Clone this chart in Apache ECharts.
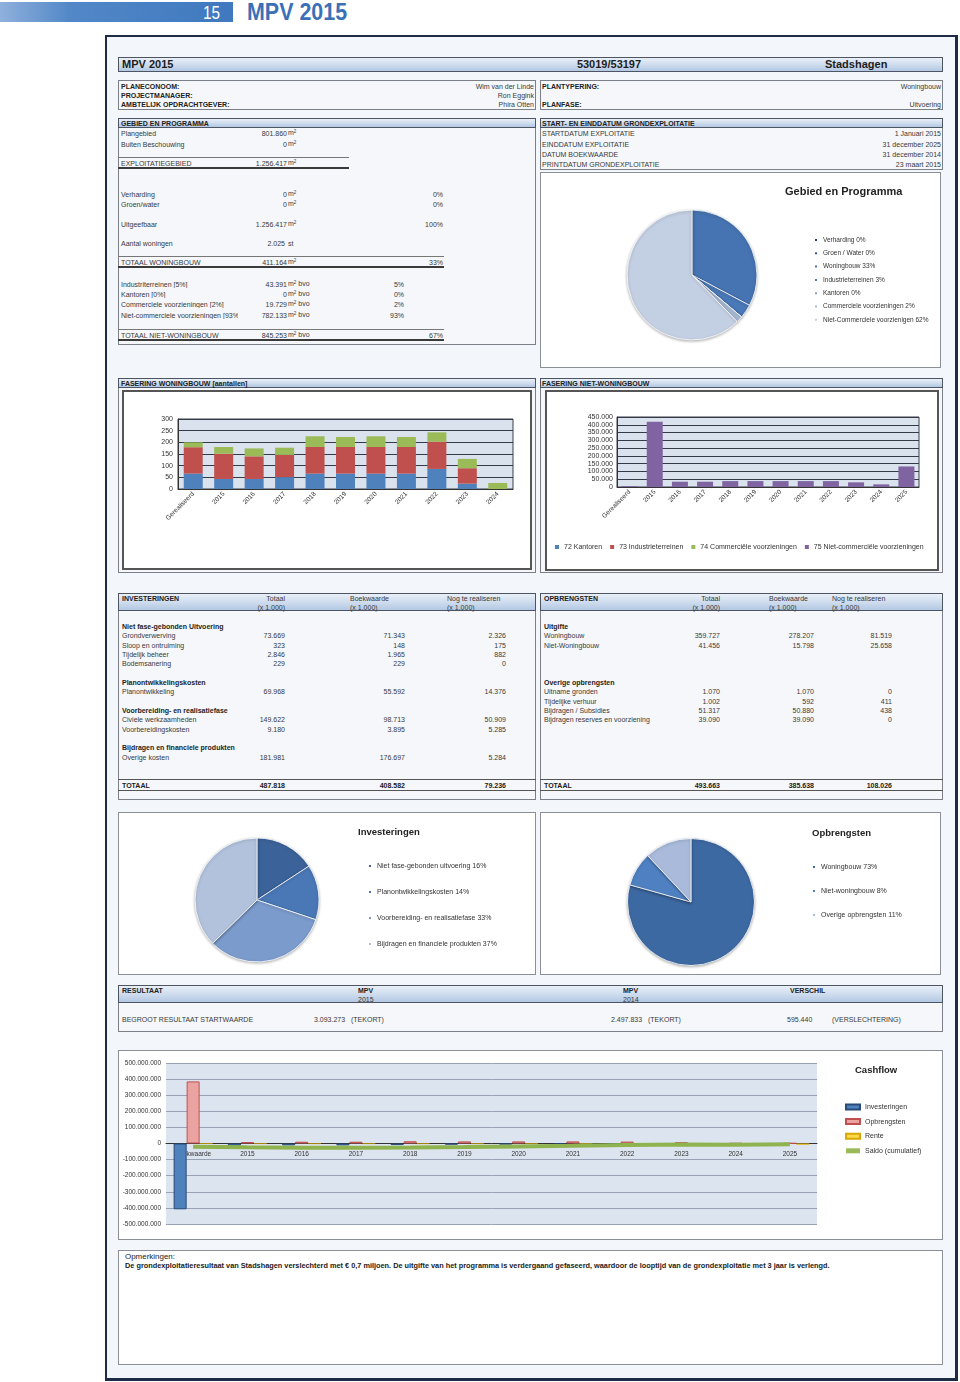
<!DOCTYPE html>
<html><head><meta charset="utf-8">
<script src="https://cdn.jsdelivr.net/npm/echarts@6/dist/echarts.min.js"></script>
<style>
html,body{margin:0;padding:0;background:#fff;}
#page{position:relative;width:960px;height:1382px;overflow:hidden;font-family:"Liberation Sans",Arial,sans-serif;color:#3a3a3a;}
.t{position:absolute;white-space:nowrap;}
.b{position:absolute;box-sizing:border-box;}
.sup{font-size:4.5px;position:relative;top:-2.5px;}
</style></head><body><div id="page"></div>
<script>
// ---------------- DATA ----------------
const infoLeft = [['PLANECONOOM:','Wim van der Linde'],['PROJECTMANAGER:','Ron Eggink'],['AMBTELIJK OPDRACHTGEVER:','Phira Otten']];
const infoRight = [['PLANTYPERING:','Woningbouw'],['',''],['PLANFASE:','Uitvoering']];
const datesRows = [['STARTDATUM EXPLOITATIE','1 Januari 2015'],['EINDDATUM EXPLOITATIE','31 december 2025'],['DATUM BOEKWAARDE','31 december 2014'],['PRINTDATUM GRONDEXPLOITATIE','23 maart 2015']];
const areaRows = [['Plangebied','801.860'],['Buiten Beschouwing','0']];
const areaTotal = ['EXPLOITATIEGEBIED','1.256.417'];
const useRows = [['Verharding','0','0%'],['Groen/water','0','0%'],['Uitgeefbaar','1.256.417','100%']];
const housingCount = ['Aantal woningen','2.025','st'];
const housingTotal = ['TOTAAL WONINGBOUW','411.164','33%'];
const nonHousingRows = [['Industriterreinen [5%]','43.391','5%'],['Kantoren [0%]','0','0%'],['Commerciele voorzieningen [2%]','19.729','2%'],['Niet-commerciele voorzieningen [93%]','782.133','93%']];
const nonHousingTotal = ['TOTAAL NIET-WONINGBOUW','845.253','67%'];

const gebiedNames = ['Verharding 0%','Groen / Water 0%','Woningbouw 33%','Industrieterreinen 3%','Kantoren 0%','Commerciele voorzieningen 2%','Niet-Commerciele voorzienigen 62%'];
const gebiedValues = [0,0,411164,43391,0,19729,782133];

const wbCategories = ['Gerealiseerd','2015','2016','2017','2018','2019','2020','2021','2022','2023','2024'];
const wbBlue  = [66,43,43,51,66,66,66,66,86,23,0];
const wbRed   = [113,108,97,95,114,114,114,114,117,66,0];
const wbGreen = [21,29,34,31,46,43,46,43,40,40,26];

const nwbCategories = ['Gerealiseerd','2015','2016','2017','2018','2019','2020','2021','2022','2023','2024','2025'];
const nwbKantoren = [0,0,0,0,0,0,0,0,0,0,0,0];
const nwbIndustrie = [0,0,0,0,0,0,0,0,0,0,0,0];
const nwbCommercieel = [0,0,0,0,0,0,0,0,0,0,0,0];
const nwbNietCommercieel = [5000,420000,34000,34000,38000,38000,38000,38000,38000,30000,17000,132000];
const nwbLegend = ['72 Kantoren','73 Industrieterreinen','74 Commerciële voorzieningen','75 Niet-commerciële voorzieningen'];

const invHeader = ['INVESTERINGEN','Totaal','Boekwaarde','Nog te realiseren','(x 1.000)'];
const invRows = [
  ['Niet fase-gebonden Uitvoering'],
  ['Grondverwerving','73.669','71.343','2.326'],
  ['Sloop en ontruiming','323','148','175'],
  ['Tijdelijk beheer','2.846','1.965','882'],
  ['Bodemsanering','229','229','0'],
  ['Planontwikkelingskosten'],
  ['Planontwikkeling','69.968','55.592','14.376'],
  ['Voorbereiding- en realisatiefase'],
  ['Civiele werkzaamheden','149.622','98.713','50.909'],
  ['Voorbereidingskosten','9.180','3.895','5.285'],
  ['Bijdragen en financiele produkten'],
  ['Overige kosten','181.981','176.697','5.284']];
const invTotal = ['TOTAAL','487.818','408.582','79.236'];

const opbHeader = ['OPBRENGSTEN','Totaal','Boekwaarde','Nog te realiseren','(x 1.000)'];
const opbRows = [
  ['Uitgifte'],
  ['Woningbouw','359.727','278.207','81.519'],
  ['Niet-Woningbouw','41.456','15.798','25.658'],
  ['Overige opbrengsten'],
  ['Uitname gronden','1.070','1.070','0'],
  ['Tijdelijke verhuur','1.002','592','411'],
  ['Bijdragen / Subsidies','51.317','50.880','438'],
  ['Bijdragen reserves en voorziening','39.090','39.090','0']];
const opbTotal = ['TOTAAL','493.663','385.638','108.026'];

const invPieNames = ['Niet fase-gebonden uitvoering 16%','Planontwikkelingskosten 14%','Voorbereiding- en realisatiefase 33%','Bijdragen en financiele produkten 37%'];
const invPieValues = [77067,69968,158802,181981];
const opbPieNames = ['Woningbouw 73%','Niet-woningbouw 8%','Overige opbrengsten 11%'];
const opbPieValues = [73,8,11];

const resHeader = ['RESULTAAT','MPV','2015','MPV','2014','VERSCHIL'];
const resRow = ['BEGROOT RESULTAAT STARTWAARDE','3.093.273','(TEKORT)','2.497.833','(TEKORT)','595.440','(VERSLECHTERING)'];

const cfCategories = ['Boekwaarde','2015','2016','2017','2018','2019','2020','2021','2022','2023','2024','2025'];
const cfInvesteringen = [-408582000,-14000000,-12000000,-12000000,-10000000,-7000000,-6000000,-5000000,-4000000,-3000000,-3000000,-3000000];
const cfOpbrengsten = [385638000,9000000,11000000,11000000,14000000,13000000,13000000,13000000,12000000,8000000,2000000,2000000];
const cfRente = [0,-1000000,-1500000,-1500000,-1500000,-1500000,-1500000,-1500000,-1500000,-1500000,-1500000,-8000000];
const cfSaldo = [-20000000,-24000000,-26000000,-27000000,-25000000,-22000000,-18000000,-14000000,-9000000,-6000000,-7000000,-4000000];
const cfLegend = ['Investeringen','Opbrengsten','Rente','Saldo (cumulatief)'];

const remarksTitle = 'Opmerkingen:';
const remarksText = 'De grondexploitatieresultaat van Stadshagen verslechterd met € 0,7 miljoen. De uitgifte van het programma is verdergaand gefaseerd, waardoor de looptijd van de grondexploitatie met 3 jaar is verlengd.';

// ---------------- LAYOUT HELPERS ----------------
const page = document.getElementById('page');
const HDR = 'background:linear-gradient(to bottom,#e9eff8 0%,#cddbed 55%,#b3c8e3 100%);';
function box(x,y,w,h,css){const d=document.createElement('div');d.className='b';d.style.cssText=`left:${x}px;top:${y}px;width:${w}px;height:${h}px;`+(css||'');page.appendChild(d);return d;}
function T(x,y,s,o){o=o||{};const d=document.createElement('div');d.className='t';const fs=o.size||7;
  d.style.fontSize=fs+'px';d.style.lineHeight=fs+'px';d.style.top=(y-fs/2)+'px';
  if(o.align==='right'){d.style.left=(x-500)+'px';d.style.width='500px';d.style.textAlign='right';}
  else if(o.align==='center'){d.style.left=(x-250)+'px';d.style.width='500px';d.style.textAlign='center';}
  else d.style.left=x+'px';
  if(o.bold)d.style.fontWeight='bold';
  if(o.color)d.style.color=o.color;
  if(o.clip){d.style.width=o.clip+'px';d.style.overflow='hidden';}
  d.innerHTML=s;page.appendChild(d);
  if(o.fit){const w=d.scrollWidth;d.style.transformOrigin='left center';d.style.transform=`scaleX(${o.fit/w})`;}
  return d;}
function line(x1,x2,y,w,c){box(x1,y,x2-x1,w,'background:'+c);}
const M2 = ' m<span class="sup">2</span>';
const nl = v => { const s=Math.abs(Math.round(v)).toString().replace(/\B(?=(\d{3})+(?!\d))/g,'.'); return (v<0?'-':'')+s; };

// ---------------- STATIC PAGE ----------------
box(0,2,233,20,'background:linear-gradient(to right,#8fb0dc 0%,#5288c8 30%,#3f78be 100%)');
T(203,12.5,'15',{size:18,color:'#fff',fit:17});
T(247,12,'MPV 2015',{size:24,bold:true,color:'#3b70b7',fit:100});

box(105,35,853,1346,'border:2px solid #1d2b47;border-right-width:3px;border-bottom-width:3px;background:#f3f6fa');

box(118,57,825,15,'border:1px solid #4d5564;'+HDR);
T(122,64.5,'MPV 2015',{size:11,bold:true,color:'#1d1d1d'});
T(609,64.5,'53019/53197',{size:11,bold:true,align:'center',color:'#1d1d1d'});
T(825,64.5,'Stadshagen',{size:11,bold:true,color:'#1d1d1d'});

const infoY=[86,95,104];
box(118,80,418,30,'border:1px solid #7a7f88;background:#f5f7fa');
box(540,80,403,30,'border:1px solid #7a7f88;background:#f5f7fa');
infoLeft.forEach((r,i)=>{T(121,infoY[i],r[0],{bold:true,color:'#222'});T(534,infoY[i],r[1],{align:'right'});});
infoRight.forEach((r,i)=>{if(!r[0])return;T(542,infoY[i],r[0],{bold:true,color:'#222'});T(941,infoY[i],r[1],{align:'right'});});

// Gebied en programma
box(118,118,418,227,'border:1px solid #7a7f88;background:#f5f7fa');
box(118,118,418,10,'border:1px solid #4d5564;'+HDR);
T(121,123,'GEBIED EN PROGRAMMA',{bold:true,color:'#222'});
const aY=[133,144];
areaRows.forEach((r,i)=>{T(287,aY[i],r[1],{align:'right'});T(121,aY[i],r[0]);T(288,aY[i]-0.5,M2);});
line(118,349,157,1,'#777');
T(121,163,areaTotal[0]);T(287,163,areaTotal[1],{align:'right'});T(288,162.5,M2);
line(118,349,167,2,'#3a3a3a');
const uY=[194,204,224];
useRows.forEach((r,i)=>{T(121,uY[i],r[0]);T(287,uY[i],r[1],{align:'right'});T(288,uY[i]-0.5,M2);T(443,uY[i],r[2],{align:'right'});});
T(121,243,housingCount[0]);T(285,243,housingCount[1],{align:'right'});T(288,243,housingCount[2]);
line(118,444,256,1,'#777');
T(121,262,housingTotal[0]);T(287,262,housingTotal[1],{align:'right'});T(288,261.5,M2);T(443,262,housingTotal[2],{align:'right'});
line(118,444,266,2,'#3a3a3a');
const nY=[284,294,304,315];
nonHousingRows.forEach((r,i)=>{T(121,nY[i],r[0],{clip:117});T(287,nY[i],r[1],{align:'right'});T(288,nY[i]-0.5,M2+' bvo');T(404,nY[i],r[2],{align:'right'});});
line(118,444,329,1,'#777');
T(121,335,nonHousingTotal[0]);T(287,335,nonHousingTotal[1],{align:'right'});T(288,334.5,M2+' bvo');T(443,335,nonHousingTotal[2],{align:'right'});
line(118,444,339,2,'#3a3a3a');

// dates
box(540,118,403,52,'border:1px solid #7a7f88;background:#f5f7fa');
box(540,118,403,10,'border:1px solid #4d5564;'+HDR);
T(542,123,'START- EN EINDDATUM GRONDEXPLOITATIE',{bold:true,color:'#222'});
const dY=[133,144,154,164];
datesRows.forEach((r,i)=>{T(542,dY[i],r[0]);T(941,dY[i],r[1],{align:'right'});});

// chart boxes
box(540,172,401,196,'border:1px solid #8a8f98;background:#fff');
box(118,378,418,195,'border:1px solid #7a7f88;background:#f5f7fa');
box(118,378,418,10,'border:1px solid #4d5564;'+HDR);
T(121,383,'FASERING WONINGBOUW [aantallen]',{bold:true,color:'#222'});
box(122,390,410,180,'border:2px solid #555;background:#fff');
box(540,378,403,195,'border:1px solid #7a7f88;background:#f5f7fa');
box(540,378,403,10,'border:1px solid #4d5564;'+HDR);
T(542,383,'FASERING NIET-WONINGBOUW',{bold:true,color:'#222'});
box(545,390,394,181,'border:2px solid #555;background:#fff');

// tables
function table(x,w,hdr,rows,rowY,tot,cols){
  box(x,593,w,207,'border:1px solid #7a7f88;background:#f5f7fa');
  box(x,593,w,18,'border:1px solid #4d5564;'+HDR);
  T(x+4,598,hdr[0],{bold:true,color:'#222'});
  T(cols[0],598,hdr[1],{align:'right'});T(cols[0],607,hdr[4],{align:'right'});
  T(cols[1],598,hdr[2]);T(cols[1],607,hdr[4]);
  T(cols[2],598,hdr[3]);T(cols[2],607,hdr[4]);
  rows.forEach((r,i)=>{const y=rowY[i];
    if(r.length===1){T(x+4,y,r[0],{bold:true,color:'#1e1e1e'});return;}
    T(x+4,y,r[0]);T(cols[0],y,r[1],{align:'right'});T(cols[3],y,r[2],{align:'right'});T(cols[4],y,r[3],{align:'right'});});
  line(x,x+w,779,1,'#555');
  T(x+4,785,tot[0],{bold:true,color:'#222'});
  T(cols[0],785,tot[1],{align:'right',bold:true,color:'#222'});T(cols[3],785,tot[2],{align:'right',bold:true,color:'#222'});T(cols[4],785,tot[3],{align:'right',bold:true,color:'#222'});
  line(x,x+w,790,1,'#555');
}
table(118,418,invHeader,invRows,[626,635,645,654,663,682,691,710,719,729,747,757],invTotal,[285,350,447,405,506]);
table(540,403,opbHeader,opbRows,[626,635,645,682,691,701,710,719],opbTotal,[720,769,832,814,892]);

box(118,812,418,163,'border:1px solid #8a8f98;background:#fff');
box(540,812,401,163,'border:1px solid #8a8f98;background:#fff');

// resultaat
box(118,985,825,47,'border:1px solid #7a7f88;background:#f5f7fa');
box(118,985,825,18,'border:1px solid #4d5564;'+HDR);
T(122,990,resHeader[0],{bold:true,color:'#222'});
T(358,990,resHeader[1],{bold:true,color:'#222'});T(358,999,resHeader[2]);
T(623,990,resHeader[3],{bold:true,color:'#222'});T(623,999,resHeader[4]);
T(790,990,resHeader[5],{bold:true,color:'#222'});
T(122,1019,resRow[0]);
T(314,1019,resRow[1]);T(351,1019,resRow[2]);
T(611,1019,resRow[3]);T(648,1019,resRow[4]);
T(787,1019,resRow[5]);T(832,1019,resRow[6]);

box(118,1050,825,190,'border:1px solid #8a8f98;background:#fff');
box(118,1250,825,115,'border:1px solid #8a8f98;background:#fff');
T(125,1256,remarksTitle,{color:'#222',fit:50});
T(125,1265,remarksText,{bold:true,color:'#222',fit:705});

// ---------------- CHARTS ----------------
function mk(x,y,w,h){const d=document.createElement('div');d.style.cssText=`position:absolute;left:${x}px;top:${y}px;width:${w}px;height:${h}px;`;page.appendChild(d);return echarts.init(d,null,{renderer:'canvas'});}
const FONT='"Liberation Sans",Arial,sans-serif';
const shadow={shadowBlur:3,shadowColor:'rgba(0,0,0,0.3)',shadowOffsetY:1};
const legTxt={fontSize:7,lineHeight:8,color:'#333'};

// Gebied pie
mk(541,173,399,194).setOption({animation:false,textStyle:{fontFamily:FONT},
  color:['#263f6c','#2f5a94','#4673b1','#4a79b8','#8aa1c4','#a7b9d4','#c3cfe2'],
  title:{text:'Gebied en Programma',left:244,top:13,padding:0,textStyle:{fontSize:11,fontWeight:'bold',color:'#222'}},
  legend:{orient:'vertical',left:272,top:63,padding:0,icon:'rect',itemWidth:4,itemHeight:4,itemGap:5.3,textStyle:Object.assign({},legTxt,{fontSize:6.5}),data:gebiedNames},
  series:[{type:'pie',center:[151,102],radius:65,startAngle:90,clockwise:true,label:{show:false},labelLine:{show:false},
    itemStyle:Object.assign({borderColor:'#fff',borderWidth:0.8},shadow),
    data:gebiedNames.map((n,i)=>({name:n,value:gebiedValues[i]}))}]});

// Woningbouw bars
const axisTxt={fontSize:7,color:'#333'};
mk(124,392,406,176).setOption({animation:false,textStyle:{fontFamily:FONT},
  grid:{left:54,top:27,right:17,height:70,show:true,backgroundColor:'#dae2ee',borderColor:'#3a3f4a',borderWidth:1},
  xAxis:{type:'category',data:wbCategories,axisTick:{show:false},axisLine:{lineStyle:{color:'#333'}},
    axisLabel:{rotate:45,fontSize:6.5,color:'#333',interval:0,margin:4}},
  yAxis:{type:'value',min:0,max:300,interval:50,axisLabel:Object.assign({margin:5},axisTxt),
    axisLine:{show:true,lineStyle:{color:'#333'}},splitLine:{lineStyle:{color:'#353a48',width:1}}},
  series:[
    {name:'Serie 1',type:'bar',stack:'a',barWidth:19,data:wbBlue,itemStyle:{color:'#4f81bd'}},
    {name:'Serie 2',type:'bar',stack:'a',barWidth:19,data:wbRed,itemStyle:{color:'#c0504d'}},
    {name:'Serie 3',type:'bar',stack:'a',barWidth:19,data:wbGreen,itemStyle:{color:'#9bbb59'}}]});

// Niet-woningbouw bars
mk(547,392,390,177).setOption({animation:false,textStyle:{fontFamily:FONT},
  grid:{left:70,top:25,right:18,height:70,show:true,backgroundColor:'#dae2ee',borderColor:'#3a3f4a',borderWidth:1},
  legend:{left:8,top:151,padding:0,icon:'rect',itemWidth:4,itemHeight:4,itemGap:8,textStyle:legTxt,data:nwbLegend},
  xAxis:{type:'category',data:nwbCategories,axisTick:{show:false},axisLine:{lineStyle:{color:'#333'}},
    axisLabel:{rotate:45,fontSize:6.5,color:'#333',interval:0,margin:4}},
  yAxis:{type:'value',min:0,max:450000,interval:50000,axisLabel:Object.assign({margin:4,formatter:nl},axisTxt),
    axisLine:{show:true,lineStyle:{color:'#333'}},splitLine:{lineStyle:{color:'#353a48',width:1}}},
  series:[
    {name:nwbLegend[0],type:'bar',stack:'a',barWidth:16,data:nwbKantoren,itemStyle:{color:'#4f81bd'}},
    {name:nwbLegend[1],type:'bar',stack:'a',barWidth:16,data:nwbIndustrie,itemStyle:{color:'#c0504d'}},
    {name:nwbLegend[2],type:'bar',stack:'a',barWidth:16,data:nwbCommercieel,itemStyle:{color:'#9bbb59'}},
    {name:nwbLegend[3],type:'bar',stack:'a',barWidth:16,data:nwbNietCommercieel,itemStyle:{color:'#8064a2'}}]});

// Investeringen pie
mk(119,813,416,161).setOption({animation:false,textStyle:{fontFamily:FONT},
  color:['#3c6399','#4a78b6','#7b9bcc','#b2c2dd'],
  title:{text:'Investeringen',left:239,top:14,padding:0,textStyle:{fontSize:9.5,fontWeight:'bold',color:'#222'}},
  legend:{orient:'vertical',left:248,top:49,padding:0,icon:'rect',itemWidth:4,itemHeight:4,itemGap:18,textStyle:legTxt,data:invPieNames},
  series:[{type:'pie',center:[138,87],radius:62,startAngle:90,label:{show:false},labelLine:{show:false},
    itemStyle:Object.assign({borderColor:'#fff',borderWidth:0.8},shadow),
    data:invPieNames.map((n,i)=>({name:n,value:invPieValues[i]}))}]});

// Opbrengsten pie
mk(541,813,399,161).setOption({animation:false,textStyle:{fontFamily:FONT},
  color:['#3d69a2','#4f81c2','#a9badb'],
  title:{text:'Opbrengsten',left:271,top:15,padding:0,textStyle:{fontSize:9.5,fontWeight:'bold',color:'#222'}},
  legend:{orient:'vertical',left:270,top:50,padding:0,icon:'rect',itemWidth:4,itemHeight:4,itemGap:16,textStyle:legTxt,data:opbPieNames},
  series:[{type:'pie',center:[150,89],radius:63.5,startAngle:90,label:{show:false},labelLine:{show:false},
    itemStyle:Object.assign({borderColor:'#fff',borderWidth:0.8},shadow),
    data:opbPieNames.map((n,i)=>({name:n,value:opbPieValues[i]}))}]});

// Cashflow
mk(119,1051,823,188).setOption({animation:false,textStyle:{fontFamily:FONT},
  title:{text:'Cashflow',left:736,top:14,padding:0,textStyle:{fontSize:9.5,fontWeight:'bold',color:'#222'}},
  legend:{orient:'vertical',left:726,top:52,padding:0,icon:'rect',itemWidth:14,itemHeight:5,itemGap:6.6,textStyle:legTxt,data:cfLegend},
  grid:{left:47,top:12,right:125,bottom:15,show:true,backgroundColor:'#dce4ef',borderWidth:0},
  xAxis:{type:'category',data:cfCategories,position:'bottom',offset:-80.5,axisTick:{show:false},axisLine:{onZero:false,lineStyle:{color:'#333'}},
    axisLabel:{fontSize:6.5,color:'#333',interval:0,margin:7}},
  yAxis:{type:'value',min:-500000000,max:500000000,interval:100000000,
    axisLabel:{fontSize:6.5,color:'#333',margin:5,formatter:nl},
    axisLine:{show:false},splitLine:{lineStyle:{color:'#98a2b4',width:1}}},
  series:[
    {name:cfLegend[0],type:'bar',barWidth:13,barGap:'0%',data:cfInvesteringen,itemStyle:{color:'#4f81bd',borderColor:'#274a78',borderWidth:1}},
    {name:cfLegend[1],type:'bar',barWidth:13,barGap:'0%',data:cfOpbrengsten,itemStyle:{color:'#eaa3a1',borderColor:'#c0504d',borderWidth:1}},
    {name:cfLegend[2],type:'bar',barWidth:13,barGap:'0%',data:cfRente,itemStyle:{color:'#ffd84d',borderColor:'#d8a800',borderWidth:0.5}},
    {name:cfLegend[3],type:'line',data:cfSaldo,symbol:'none',itemStyle:{color:'#9bbb59'},lineStyle:{color:'#8fb34e',width:4}}]});
</script></body></html>
